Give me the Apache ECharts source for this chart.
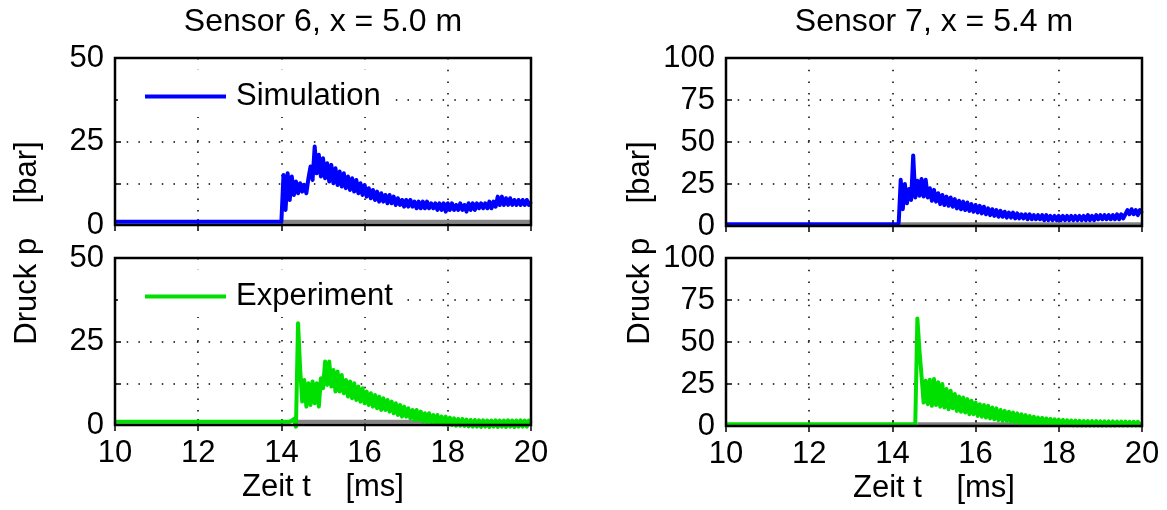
<!DOCTYPE html>
<html><head><meta charset="utf-8">
<script src="https://cdn.jsdelivr.net/npm/echarts@6/dist/echarts.min.js"></script>
<style>html,body{margin:0;padding:0;background:#fff}#c{width:1167px;height:510px}</style>
</head><body><div id="c"></div>
<script>
// time axis samples [ms]
const time = [10,
 14.00,14.05,14.10,14.15,14.20,14.25,14.30,14.35,14.40,14.45,
 14.50,14.55,14.60,14.65,14.70,14.75,14.80,14.85,14.90,14.95,
 15.00,15.05,15.10,15.15,15.20,15.25,15.30,15.35,15.40,15.45,
 15.50,15.55,15.60,15.65,15.70,15.75,15.80,15.85,15.90,15.95,
 16.00,16.05,16.10,16.15,16.20,16.25,16.30,16.35,16.40,16.45,
 16.50,16.55,16.60,16.65,16.70,16.75,16.80,16.85,16.90,16.95,
 17.00,17.05,17.10,17.15,17.20,17.25,17.30,17.35,17.40,17.45,
 17.50,17.55,17.60,17.65,17.70,17.75,17.80,17.85,17.90,17.95,
 18.00,18.05,18.10,18.15,18.20,18.25,18.30,18.35,18.40,18.45,
 18.50,18.55,18.60,18.65,18.70,18.75,18.80,18.85,18.90,18.95,
 19.00,19.05,19.10,19.15,19.20,19.25,19.30,19.35,19.40,19.45,
 19.50,19.55,19.60,19.65,19.70,19.75,19.80,19.85,19.90,19.95,
 20.00];

// Sensor 6 simulation [bar]
const simS6 = [1,
 1,15,4.5,15.5,7.5,14.5,9,13,9.5,12.5,
 10,12,9.5,14,17.5,13.5,23.5,15.5,21,14.5,
 20,14,18.5,13,18,12.5,17,12,16,11.5,
 15.5,11,14.5,10.5,14,10,13.5,9.5,12.5,9,
 12,8.5,11,8,10.5,7.5,10,7,9.5,7,
 9,6.5,9,6.5,8.5,6,8,6,7.5,5.5,
 7.5,5.5,7.5,5.5,7,5,7,5,7,5,
 7,5,6.5,5,6.5,4.5,6.5,4.5,6.5,4,
 6.5,4.5,6.5,4.5,6,4.5,6.5,4.5,6,4,
 6.5,4.5,6.5,4.5,6.5,5,6.5,5,6.5,5,
 7,5,7,5.5,8.5,6,8.5,6,8,6,
 8,6,7.5,6,7.5,6,7.5,6,7.5,6,
 7];

// Sensor 6 experiment [bar]
const expS6 = [1,
 1,1,1,1,1,1.3,1.8,-0.5,30.5,17,
 7,13.5,5.5,12.5,6,13,6.5,12.5,5.5,14,
 11,19,12,19,11.5,16.5,10,16,10,15,
 9.5,13.5,8.5,13,8,12.5,7.5,11.5,7,11,
 6.5,10,6,9.5,5.5,9,5,8.5,4.5,8,
 4.5,7.5,4,7,3.5,6.5,3,6,2.5,5.5,
 2.5,5,2,4.5,1.5,4.5,1.5,4,1,3.5,
 1,3.5,0.8,3,0.5,3,0.5,2.5,0.2,2.5,
 0,2.2,0,2,-0.2,1.8,-0.2,1.8,-0.3,1.6,
 -0.4,1.5,-0.5,1.5,-0.5,1.4,-0.6,1.4,-0.5,1.3,
 -0.6,1.3,-0.5,1.4,-0.6,1.3,-0.5,1.3,-0.6,1.4,
 -0.5,1.3,-0.6,1.3,-0.5,1.4,-0.5,1.3,-0.5,1.3,
 0.5];

// Sensor 7 simulation [bar]
const simS7 = [1,
 1,1,1,1,27.5,10,25,13.5,22,15.5,
 42,17,27,18,28,17.5,27.5,17,22.5,15,
 21.5,14.5,19.5,13,18.5,12.5,17.5,12,17,11.5,
 16,10.5,15,10,14.5,9.5,14,9,13,8.5,
 12.5,8,12,7.5,11.5,7,10.5,6.5,10,6,
 9.5,5.5,9,5.5,8.5,5,8,5,8,4.5,
 7.5,4.5,7,4.5,7,4,7,4,6.5,4,
 6.5,4,6.5,3.5,6.5,3.5,6,3.5,6,3.5,
 6,3.5,6,3.5,6,3.5,6,3.5,6,3.5,
 6,3.5,6,3.5,6.5,3.5,6,3.5,6.5,4,
 6.5,4,6.5,4,6.5,4,6.5,4,7,4,
 7,4.5,7,9.5,7,10,7,9.5,6.5,9.5,
 7.5];

// Sensor 7 experiment [bar]
const expS7 = [1,
 1,1,1,1,1,1,1,1,1,1,
 1,1,64,45,30,14,27,13,27.5,12,
 28,12.5,26,11.5,25,11,22,10,21,10.5,
 19,9,17.5,8.5,17,8,16,7,15,7,
 14,6,13,5.5,12.5,5,12,4.5,11,4,
 10.5,3.5,9.5,3,9,3,8.5,2.5,8,2,
 7.5,2,7,1.8,6.5,1.5,6,1.5,5.5,1.2,
 5,1,4.8,1,4.5,0.8,4.2,0.8,4,0.6,
 3.8,0.5,3.6,0.5,3.4,0.5,3.3,0.4,3.2,0.4,
 3.1,0.4,3,0.4,3,0.3,2.9,0.3,2.9,0.3,
 2.8,0.3,2.8,0.3,2.7,0.3,2.7,0.3,2.6,0.3,
 2.6,0.3,2.6,0.3,2.5,0.3,2.5,0.3,2.5,0.3,
 1.5];

// gray reference line: start time (arrival) and level
const refStart = [14.0, 14.4, 14.2, 14.6];
const refEnd = 20;
const refLevel = 1;

const titles = ['Sensor 6, x = 5.0 m', 'Sensor 7, x = 5.4 m'];
const xName = 'Zeit t    [ms]';
const yName = 'Druck p    [bar]';
const legendNames = ['Simulation', 'Experiment'];
const yMax = [50, 50, 100, 100];
const yStep = [12.5, 12.5, 25, 25];
const yLabelStep = [25, 25, 25, 25];
const xMin = 10, xMax = 20, xStep = 2;

const FONT = 'Liberation Sans, Arial, Helvetica, sans-serif';
const FS = 31;
const BLUE = '#0000ff', GREEN = '#00e000', GRAY = '#848484';

const grids = [
  {left: 115, top: 58, width: 416, height: 167},
  {left: 115, top: 258, width: 416, height: 167},
  {left: 726, top: 58, width: 416, height: 168},
  {left: 726, top: 258, width: 416, height: 168}
];

const dotted = {color: '#000', width: 1.5, type: [1.5, 10.2]};
const tickStyle = {show: true, inside: true, length: 6, lineStyle: {color: '#000', width: 1.5}};

const xAxis = [], yAxis = [], series = [];
const seriesData = [simS6, expS6, simS7, expS7];
const seriesColors = [BLUE, GREEN, BLUE, GREEN];

for (let g = 0; g < 4; g++) {
  const isBottom = (g % 2 === 1);
  xAxis.push({
    gridIndex: g, type: 'value', min: xMin, max: xMax, interval: xStep,
    axisLine: {show: false},
    axisTick: tickStyle,
    axisLabel: {show: isBottom, fontSize: FS, fontFamily: FONT, color: '#000', margin: 13},
    splitLine: {show: true, lineStyle: dotted},
    name: isBottom ? xName : '', nameLocation: 'middle', nameGap: 47,
    nameTextStyle: {fontSize: FS, fontFamily: FONT, color: '#000'}
  });
  xAxis.push({
    gridIndex: g, type: 'value', position: 'top', min: xMin, max: xMax, interval: xStep,
    axisLine: {show: false}, axisTick: tickStyle, axisLabel: {show: false},
    splitLine: {show: false},
    name: isBottom ? '' : titles[g < 2 ? 0 : 1], nameLocation: 'middle', nameGap: 20,
    nameTextStyle: {fontSize: 32, fontFamily: FONT, color: '#000'}
  });
  const step = yLabelStep[g];
  yAxis.push({
    gridIndex: g, type: 'value', min: 0, max: yMax[g], interval: yStep[g],
    axisLine: {show: false}, axisTick: tickStyle,
    axisLabel: {fontSize: FS, fontFamily: FONT, color: '#000', margin: 11,
      formatter: v => (Math.abs(v / step - Math.round(v / step)) < 1e-6 ? String(v) : '')},
    splitLine: {show: true, lineStyle: dotted}
  });
  yAxis.push({
    gridIndex: g, type: 'value', position: 'right', min: 0, max: yMax[g], interval: yStep[g],
    axisLine: {show: false}, axisTick: tickStyle, axisLabel: {show: false},
    splitLine: {show: false}
  });
  series.push({
    type: 'line', name: 'ref' + g, xAxisIndex: 2 * g, yAxisIndex: 2 * g,
    data: [[refStart[g], refLevel], [refEnd, refLevel]],
    showSymbol: false, symbol: 'none', silent: true, z: 2,
    lineStyle: {color: GRAY, width: 4}, itemStyle: {color: GRAY}
  });
  const vals = seriesData[g];
  series.push({
    type: 'line', name: legendNames[g % 2], xAxisIndex: 2 * g, yAxisIndex: 2 * g,
    data: time.map((t, i) => [t, vals[i]]),
    showSymbol: false, symbol: 'none', clip: false, z: 3,
    lineStyle: {color: seriesColors[g], width: 4, join: 'round'},
    itemStyle: {color: seriesColors[g]}
  });
}

const legendCommon = {
  left: 118, padding: [11, 8, 5, 27], backgroundColor: '#fff', borderWidth: 0,
  itemWidth: 81, itemHeight: 4, icon: 'rect', itemGap: 0, selectedMode: false,
  textStyle: {fontSize: FS, fontFamily: FONT, color: '#000', padding: [0, 0, 0, 5]}
};

const option = {
  animation: false,
  backgroundColor: '#fff',
  grid: grids.map(r => Object.assign({show: true, borderColor: '#000', borderWidth: 2.5, backgroundColor: 'transparent', containLabel: false, z: 5}, r)),
  xAxis, yAxis, series,
  legend: [
    Object.assign({}, legendCommon, {top: 70, data: [legendNames[0]]}),
    Object.assign({}, legendCommon, {top: 270, data: [legendNames[1]]})
  ],
  graphic: [
    {type: 'text', x: 27, y: 243, rotation: Math.PI / 2,
      style: {text: yName, fontSize: FS, fontFamily: FONT, fill: '#000', align: 'center', verticalAlign: 'middle'}},
    {type: 'text', x: 640, y: 243, rotation: Math.PI / 2,
      style: {text: yName, fontSize: FS, fontFamily: FONT, fill: '#000', align: 'center', verticalAlign: 'middle'}}
  ]
};

const chart = echarts.init(document.getElementById('c'), null, {renderer: 'canvas'});
chart.setOption(option);
</script>
</body></html>
